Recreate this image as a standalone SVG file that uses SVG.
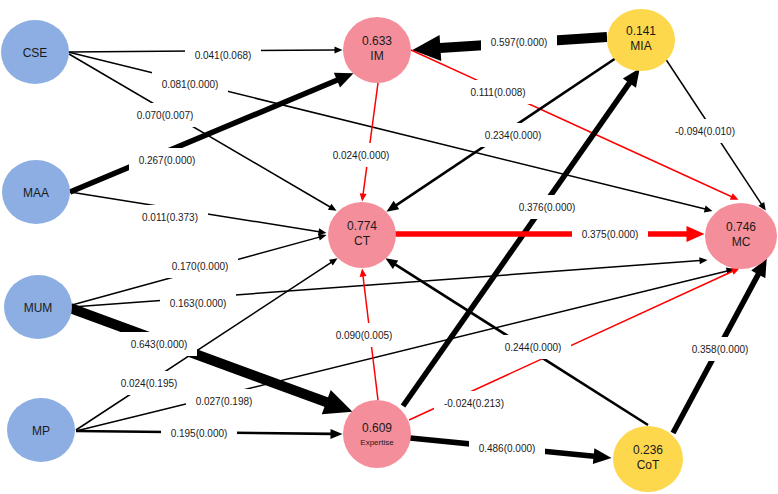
<svg xmlns="http://www.w3.org/2000/svg" width="778" height="494" viewBox="0 0 778 494">
<style>
  .e{fill:none;stroke:#000;}
  .r{stroke:#ff0000;}
  .w1{stroke-width:1.5;}
  .w2{stroke-width:2.6;}
  .w3{stroke-width:5.5;}
  .w4{stroke-width:10;}
  .blue{fill:#8caee3;}
  .pink{fill:#f58e9b;}
  .yel{fill:#fdd74c;}
  .nt{font-family:"Liberation Sans",Arial,sans-serif;font-size:12px;fill:#1a1a1a;text-anchor:middle;}
  .ns{font-family:"Liberation Sans",Arial,sans-serif;font-size:8px;fill:#1a1a1a;text-anchor:middle;}
  .lb rect{fill:#fff;}
  .lb text{font-family:"Liberation Sans",Arial,sans-serif;font-size:10px;fill:#1a1a1a;text-anchor:middle;}
</style>
<defs>
  <marker id="aS" markerUnits="userSpaceOnUse" markerWidth="9" markerHeight="7" refX="0.5" refY="3.5" orient="auto" overflow="visible"><path d="M0,0 L8,3.5 L0,7 z" fill="#000"/></marker>
  <marker id="aSr" markerUnits="userSpaceOnUse" markerWidth="9" markerHeight="7" refX="0.5" refY="3.5" orient="auto" overflow="visible"><path d="M0,0 L8,3.5 L0,7 z" fill="#ff0000"/></marker>
  <marker id="aM" markerUnits="userSpaceOnUse" markerWidth="12" markerHeight="10" refX="0.5" refY="5" orient="auto" overflow="visible"><path d="M0,0 L12,5 L0,10 z" fill="#000"/></marker>
  <marker id="aL" markerUnits="userSpaceOnUse" markerWidth="18" markerHeight="16" refX="0.5" refY="8" orient="auto" overflow="visible"><path d="M0,0 L18,8 L0,16 z" fill="#000"/></marker>
  <marker id="aLr" markerUnits="userSpaceOnUse" markerWidth="18" markerHeight="16" refX="0.5" refY="8" orient="auto" overflow="visible"><path d="M0,0 L18,8 L0,16 z" fill="#ff0000"/></marker>
  <marker id="aX" markerUnits="userSpaceOnUse" markerWidth="28" markerHeight="26" refX="0.5" refY="13" orient="auto" overflow="visible"><path d="M0,0 L28,13 L0,26 z" fill="#000"/></marker>
</defs>
<rect width="778" height="494" fill="#fff"/>

<g id="connectors">
  <path class="e w1" d="M68,52 L335,50" marker-end="url(#aS)"/>
  <path class="e w1" d="M68,52 L705.2,209.1" marker-end="url(#aS)"/>
  <path class="e w1" d="M69,54 L330.1,207" marker-end="url(#aS)"/>
  <path class="e w3" d="M70,192 L337.4,80" marker-end="url(#aL)"/>
  <path class="e w1" d="M70,192 L319.1,231.7" marker-end="url(#aS)"/>
  <path class="e w1 r" d="M378,83 L363.1,194.1" marker-end="url(#aSr)"/>
  <path class="e w1 r" d="M411,50 L731.7,196.7" marker-end="url(#aSr)"/>
  <path class="e w4" d="M607,37 L439.9,48.1" marker-end="url(#aX)"/>
  <path class="e w2" d="M616,58 L396,205.3" marker-end="url(#aM)"/>
  <path class="e w3" d="M403,406 L629.7,82.7" marker-end="url(#aL)"/>
  <path class="e w1" d="M665,58 L761.6,204.3" marker-end="url(#aS)"/>
  <path class="e w3 r" d="M395,234 L687,234" marker-end="url(#aLr)"/>
  <path class="e w1" d="M72,305 L319.3,237.1" marker-end="url(#aS)"/>
  <path class="e w1" d="M72,307 L700,260.6" marker-end="url(#aS)"/>
  <path class="e w4" d="M70,308 L326.7,402.3" marker-end="url(#aX)"/>
  <path class="e w1" d="M76,430 L331.3,262.4" marker-end="url(#aS)"/>
  <path class="e w1" d="M76,431 L727.2,270.9" marker-end="url(#aS)"/>
  <path class="e w1 r" d="M409,420 L732.7,271.3" marker-end="url(#aSr)"/>
  <path class="e w2" d="M648,425 L395.1,264.4" marker-end="url(#aM)"/>
  <path class="e w3" d="M673,433 L758.5,273.9" marker-end="url(#aL)"/>
  <path class="e w2" d="M76,431 L331,433.9" marker-end="url(#aM)"/>
  <path class="e w1 r" d="M378,400 L363,276" marker-end="url(#aSr)"/>
  <path class="e w3" d="M410,438 L594.1,456.2" marker-end="url(#aL)"/>
</g>

<g id="node-CSE"><ellipse class="blue" cx="35" cy="52" rx="34" ry="32"/><text class="nt" x="35" y="56.5">CSE</text></g>
<g id="node-MAA"><ellipse class="blue" cx="36" cy="192" rx="34" ry="32"/><text class="nt" x="36" y="196.5">MAA</text></g>
<g id="node-MUM"><ellipse class="blue" cx="38" cy="307" rx="34" ry="32"/><text class="nt" x="38" y="311.5">MUM</text></g>
<g id="node-MP"><ellipse class="blue" cx="41" cy="430" rx="34" ry="32"/><text class="nt" x="41" y="434.5">MP</text></g>
<g id="node-IM"><ellipse class="pink" cx="377" cy="50" rx="34" ry="33"/><text class="nt" x="377" y="45">0.633</text><text class="nt" x="377" y="60">IM</text></g>
<g id="node-CT"><ellipse class="pink" cx="362" cy="235" rx="34" ry="33"/><text class="nt" x="362" y="230">0.774</text><text class="nt" x="362" y="245">CT</text></g>
<g id="node-Expertise"><ellipse class="pink" cx="377" cy="434" rx="34" ry="34"/><text class="nt" x="377" y="431.5">0.609</text><text class="ns" x="377" y="445">Expertise</text></g>
<g id="node-MIA"><ellipse class="yel" cx="641" cy="40" rx="34" ry="31"/><text class="nt" x="641" y="35">0.141</text><text class="nt" x="641" y="50">MIA</text></g>
<g id="node-MC"><ellipse class="pink" cx="741" cy="236" rx="36" ry="33"/><text class="nt" x="741" y="231">0.746</text><text class="nt" x="741" y="246">MC</text></g>
<g id="node-CoT"><ellipse class="yel" cx="648" cy="459" rx="35" ry="33"/><text class="nt" x="648" y="454">0.236</text><text class="nt" x="648" y="469">CoT</text></g>

<g id="edge-labels">
  <g class="lb"><rect x="185" y="43" width="76" height="24"/><text x="223" y="58.5">0.041(0.068)</text></g>
  <g class="lb"><rect x="152" y="72" width="76" height="24"/><text x="190" y="87.5">0.081(0.000)</text></g>
  <g class="lb"><rect x="127" y="103" width="76" height="24"/><text x="165" y="118.5">0.070(0.007)</text></g>
  <g class="lb"><rect x="129" y="148" width="76" height="24"/><text x="167" y="163.5">0.267(0.000)</text></g>
  <g class="lb"><rect x="132" y="205" width="76" height="24"/><text x="170" y="220.5">0.011(0.373)</text></g>
  <g class="lb"><rect x="323" y="143" width="76" height="24"/><text x="361" y="158.5">0.024(0.000)</text></g>
  <g class="lb"><rect x="481" y="30" width="76" height="24"/><text x="519" y="45.5">0.597(0.000)</text></g>
  <g class="lb"><rect x="460" y="80" width="76" height="24"/><text x="498" y="95.5">0.111(0.008)</text></g>
  <g class="lb"><rect x="475" y="123" width="76" height="24"/><text x="513" y="138.5">0.234(0.000)</text></g>
  <g class="lb"><rect x="665" y="119" width="80" height="24"/><text x="705" y="134.5">-0.094(0.010)</text></g>
  <g class="lb"><rect x="509" y="195" width="76" height="24"/><text x="547" y="210.5">0.376(0.000)</text></g>
  <g class="lb"><rect x="572" y="222" width="76" height="24"/><text x="610" y="237.5">0.375(0.000)</text></g>
  <g class="lb"><rect x="162" y="254" width="76" height="24"/><text x="200" y="269.5">0.170(0.000)</text></g>
  <g class="lb"><rect x="160" y="291" width="76" height="24"/><text x="198" y="306.5">0.163(0.000)</text></g>
  <g class="lb"><rect x="121" y="332" width="76" height="24"/><text x="159" y="347.5">0.643(0.000)</text></g>
  <g class="lb"><rect x="111" y="371" width="76" height="24"/><text x="149" y="386.5">0.024(0.195)</text></g>
  <g class="lb"><rect x="186" y="389" width="76" height="24"/><text x="224" y="404.5">0.027(0.198)</text></g>
  <g class="lb"><rect x="161" y="421" width="76" height="24"/><text x="199" y="436.5">0.195(0.000)</text></g>
  <g class="lb"><rect x="326" y="323" width="76" height="24"/><text x="364" y="338.5">0.090(0.005)</text></g>
  <g class="lb"><rect x="495" y="335" width="76" height="24"/><text x="533" y="350.5">0.244(0.000)</text></g>
  <g class="lb"><rect x="682" y="337" width="76" height="24"/><text x="720" y="352.5">0.358(0.000)</text></g>
  <g class="lb"><rect x="434" y="391" width="80" height="24"/><text x="474" y="406.5">-0.024(0.213)</text></g>
  <g class="lb"><rect x="469" y="436" width="76" height="24"/><text x="507" y="451.5">0.486(0.000)</text></g>
</g>
</svg>
